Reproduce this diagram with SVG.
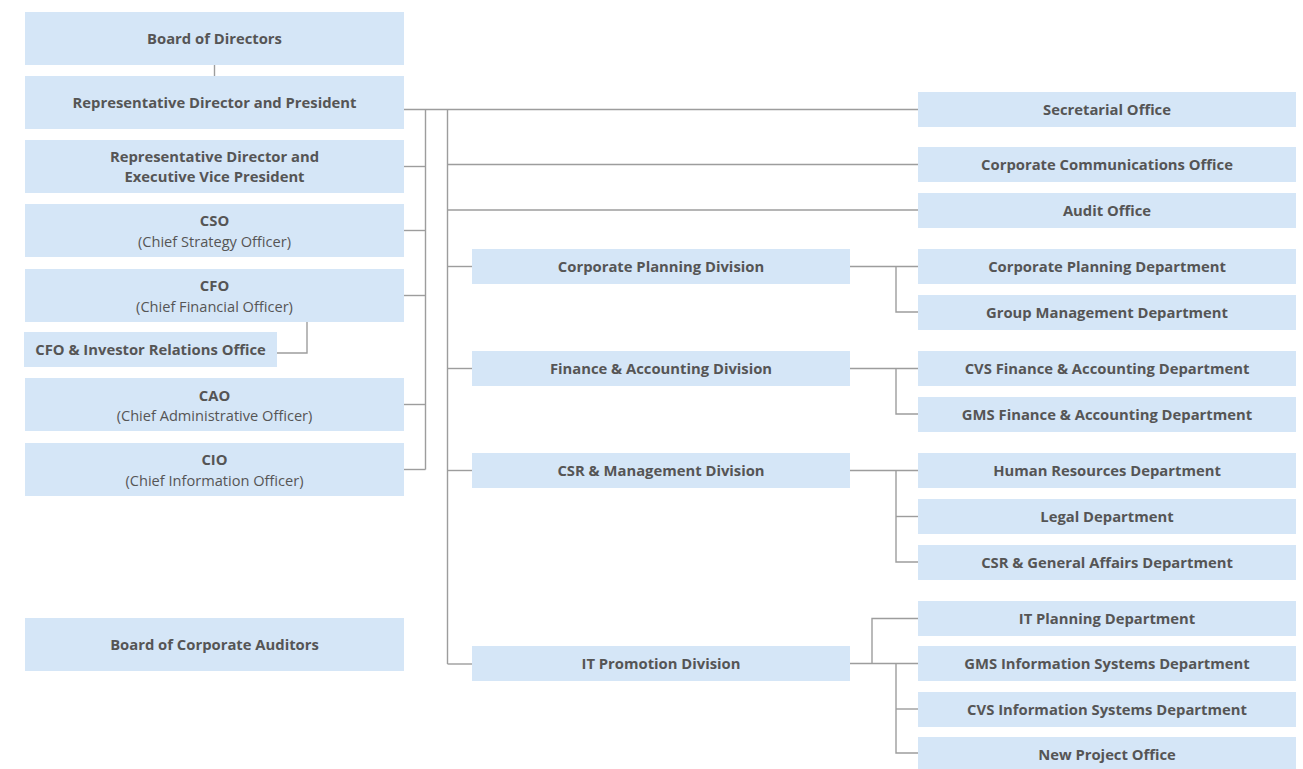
<svg xmlns="http://www.w3.org/2000/svg" width="1303" height="769" viewBox="0 0 1303 769">
  <style>
    .box { fill: #d5e6f7; }
    .t { font-family: "Open Sans", "Noto Sans", sans-serif; font-size: 14.8px; font-weight: 700; fill: #555555; text-anchor: middle; }
    .s { font-family: "Open Sans", "Noto Sans", sans-serif; font-size: 14.6px; font-weight: 400; fill: #555555; text-anchor: middle; }
    .ln { fill: none; stroke: #9d9d9d; stroke-width: 1.4; }
  </style>
  <rect width="1303" height="769" fill="#ffffff"/>

  <!-- connectors -->
  <g id="connectors" class="ln">
    <path d="M214.5 65 V76"/>
    <!-- left bus to executive officers -->
    <path d="M404 109.5 H918"/>
    <path d="M425.5 109.5 V469.5"/>
    <path d="M404 166.5 H425.5"/>
    <path d="M404 230.5 H425.5"/>
    <path d="M404 295.5 H425.5"/>
    <path d="M404 404.5 H425.5"/>
    <path d="M404 469.5 H425.5"/>
    <path d="M307 322 V353 H277"/>
    <!-- right bus to offices and divisions -->
    <path d="M447.5 109.5 V664"/>
    <path d="M447.5 164.5 H918"/>
    <path d="M447.5 210 H918"/>
    <path d="M447.5 266.5 H472"/>
    <path d="M447.5 368.5 H472"/>
    <path d="M447.5 470.5 H472"/>
    <path d="M447.5 664 H472"/>
    <!-- divisions to departments -->
    <path d="M850 266.5 H918"/>
    <path d="M896 266.5 V312 H918"/>
    <path d="M850 368.5 H918"/>
    <path d="M896 368.5 V414 H918"/>
    <path d="M850 470.5 H918"/>
    <path d="M896 470.5 V562 H918"/>
    <path d="M896 516.5 H918"/>
    <path d="M850 663.5 H918"/>
    <path d="M872 663.5 V618.5 H918"/>
    <path d="M896 663.5 V753 H918"/>
    <path d="M896 709 H918"/>
  </g>

  <!-- executive column -->
  <g id="board-of-directors"><rect class="box" x="25" y="12" width="379" height="53"/><text class="t" x="214.5" y="43.5">Board of Directors</text></g>
  <g id="president"><rect class="box" x="25" y="76" width="379" height="53"/><text class="t" x="214.5" y="107.5">Representative Director and President</text></g>
  <g id="evp"><rect class="box" x="25" y="140" width="379" height="53"/><text class="t" x="214.5" y="162">Representative Director and</text><text class="t" x="214.5" y="182">Executive Vice President</text></g>
  <g id="cso"><rect class="box" x="25" y="204" width="379" height="53"/><text class="t" x="214.5" y="226">CSO</text><text class="s" x="214.5" y="246.5">(Chief Strategy Officer)</text></g>
  <g id="cfo"><rect class="box" x="25" y="269" width="379" height="53"/><text class="t" x="214.5" y="291">CFO</text><text class="s" x="214.5" y="311.5">(Chief Financial Officer)</text></g>
  <g id="cfo-ir"><rect class="box" x="24" y="332" width="253" height="35"/><text class="t" x="150.5" y="355">CFO &amp; Investor Relations Office</text></g>
  <g id="cao"><rect class="box" x="25" y="378" width="379" height="53"/><text class="t" x="214.5" y="400.5">CAO</text><text class="s" x="214.5" y="421">(Chief Administrative Officer)</text></g>
  <g id="cio"><rect class="box" x="25" y="443" width="379" height="53"/><text class="t" x="214.5" y="465">CIO</text><text class="s" x="214.5" y="485.5">(Chief Information Officer)</text></g>
  <g id="corporate-auditors"><rect class="box" x="25" y="618" width="379" height="53"/><text class="t" x="214.5" y="649.5">Board of Corporate Auditors</text></g>

  <!-- divisions -->
  <g id="div-planning"><rect class="box" x="472" y="249" width="378" height="35"/><text class="t" x="661" y="271.5">Corporate Planning Division</text></g>
  <g id="div-finance"><rect class="box" x="472" y="351" width="378" height="35"/><text class="t" x="661" y="373.5">Finance &amp; Accounting Division</text></g>
  <g id="div-csr"><rect class="box" x="472" y="453" width="378" height="35"/><text class="t" x="661" y="475.5">CSR &amp; Management Division</text></g>
  <g id="div-it"><rect class="box" x="472" y="646" width="378" height="35"/><text class="t" x="661" y="668.5">IT Promotion Division</text></g>

  <!-- offices and departments -->
  <g id="secretarial"><rect class="box" x="918" y="92" width="378" height="35"/><text class="t" x="1107" y="114.5">Secretarial Office</text></g>
  <g id="communications"><rect class="box" x="918" y="147" width="378" height="35"/><text class="t" x="1107" y="169.5">Corporate Communications Office</text></g>
  <g id="audit"><rect class="box" x="918" y="193" width="378" height="35"/><text class="t" x="1107" y="215.5">Audit Office</text></g>
  <g id="dept-planning"><rect class="box" x="918" y="249" width="378" height="35"/><text class="t" x="1107" y="271.5">Corporate Planning Department</text></g>
  <g id="dept-group"><rect class="box" x="918" y="295" width="378" height="35"/><text class="t" x="1107" y="317.5">Group Management Department</text></g>
  <g id="dept-cvs-fin"><rect class="box" x="918" y="351" width="378" height="35"/><text class="t" x="1107" y="373.5">CVS Finance &amp; Accounting Department</text></g>
  <g id="dept-gms-fin"><rect class="box" x="918" y="397" width="378" height="35"/><text class="t" x="1107" y="419.5">GMS Finance &amp; Accounting Department</text></g>
  <g id="dept-hr"><rect class="box" x="918" y="453" width="378" height="35"/><text class="t" x="1107" y="475.5">Human Resources Department</text></g>
  <g id="dept-legal"><rect class="box" x="918" y="499" width="378" height="35"/><text class="t" x="1107" y="521.5">Legal Department</text></g>
  <g id="dept-csr-ga"><rect class="box" x="918" y="545" width="378" height="35"/><text class="t" x="1107" y="567.5">CSR &amp; General Affairs Department</text></g>
  <g id="dept-it-planning"><rect class="box" x="918" y="601" width="378" height="35"/><text class="t" x="1107" y="623.5">IT Planning Department</text></g>
  <g id="dept-gms-is"><rect class="box" x="918" y="646" width="378" height="35"/><text class="t" x="1107" y="668.5">GMS Information Systems Department</text></g>
  <g id="dept-cvs-is"><rect class="box" x="918" y="692" width="378" height="35"/><text class="t" x="1107" y="714.5">CVS Information Systems Department</text></g>
  <g id="new-project"><rect class="box" x="918" y="737" width="378" height="34"/><text class="t" x="1107" y="759.5">New Project Office</text></g>
</svg>
